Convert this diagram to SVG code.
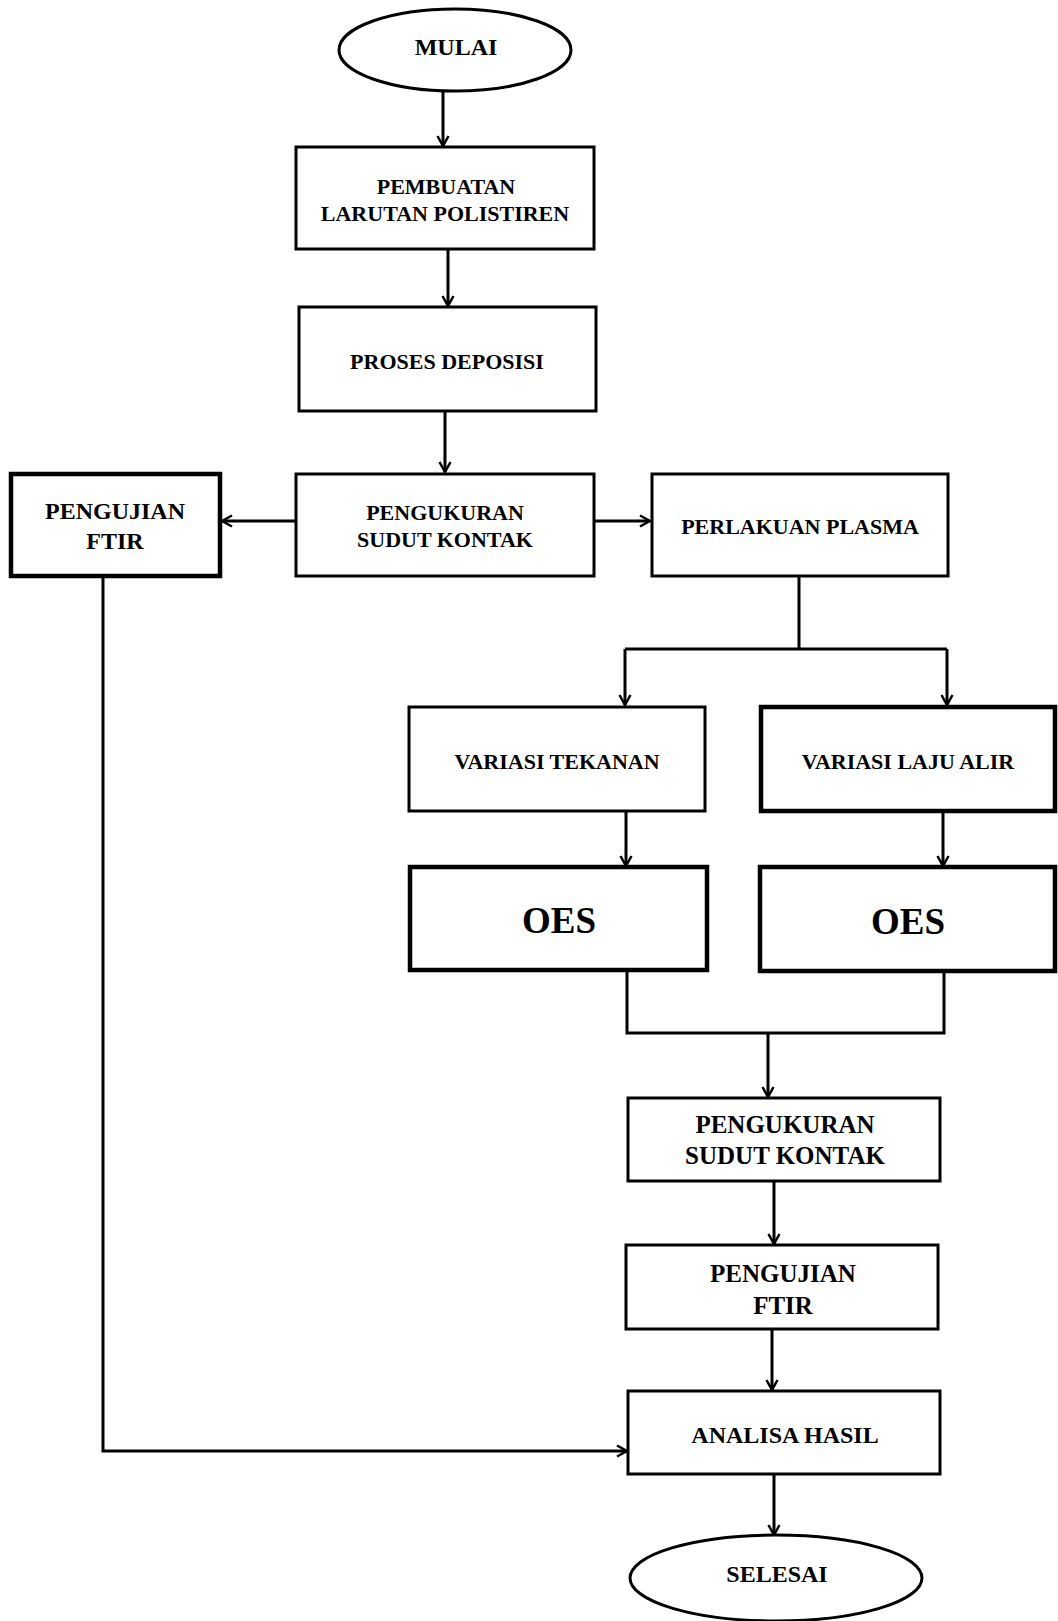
<svg xmlns="http://www.w3.org/2000/svg" width="1058" height="1621" viewBox="0 0 1058 1621">
<style>
.box{fill:#fff;stroke:#000;stroke-width:3}
.thick{stroke-width:4.5}
.t{font-family:"Liberation Serif","Times New Roman",serif;font-weight:bold;fill:#000;text-anchor:middle}
.conn{fill:none;stroke:#000;stroke-width:3}
</style>
<defs>
<marker id="arr" viewBox="0 0 14 14" refX="12" refY="7" markerWidth="14" markerHeight="14" markerUnits="userSpaceOnUse" orient="auto">
<path d="M2,1.5 L12,7 L2,12.5" fill="none" stroke="#000" stroke-width="2.5"/>
</marker>
</defs>
<rect width="1058" height="1621" fill="#fff"/>
<g id="connectors">
<path class="conn" d="M443,91 V146" marker-end="url(#arr)"/>
<path class="conn" d="M448,249 V306" marker-end="url(#arr)"/>
<path class="conn" d="M445,411 V472" marker-end="url(#arr)"/>
<path class="conn" d="M296,521 H222" marker-end="url(#arr)"/>
<path class="conn" d="M594,521 H650" marker-end="url(#arr)"/>
<path class="conn" d="M799,576 V649 M625,649 H947"/>
<path class="conn" d="M625,649 V705" marker-end="url(#arr)"/>
<path class="conn" d="M947,649 V705" marker-end="url(#arr)"/>
<path class="conn" d="M626,811 V866" marker-end="url(#arr)"/>
<path class="conn" d="M943,811 V866" marker-end="url(#arr)"/>
<path class="conn" d="M627,970 V1033 H944 V971"/>
<path class="conn" d="M768,1033 V1097" marker-end="url(#arr)"/>
<path class="conn" d="M774,1181 V1244" marker-end="url(#arr)"/>
<path class="conn" d="M772,1329 V1390" marker-end="url(#arr)"/>
<path class="conn" d="M103,576 V1451 H627" marker-end="url(#arr)"/>
<path class="conn" d="M774,1474 V1535" marker-end="url(#arr)"/>
</g>
<g id="mulai">
<ellipse class="box" cx="455" cy="50" rx="116" ry="41"/>
<text class="t" x="456" y="55" font-size="24">MULAI</text>
</g>
<g id="pembuatan">
<rect class="box" x="296" y="147" width="298" height="102"/>
<text class="t" x="446" y="194" font-size="22">PEMBUATAN</text>
<text class="t" x="445" y="221" font-size="22">LARUTAN POLISTIREN</text>
</g>
<g id="deposisi">
<rect class="box" x="299" y="307" width="297" height="104"/>
<text class="t" x="447" y="369" font-size="22">PROSES DEPOSISI</text>
</g>
<g id="pengukuran1">
<rect class="box" x="296" y="474" width="298" height="102"/>
<text class="t" x="445" y="520" font-size="22">PENGUKURAN</text>
<text class="t" x="445" y="547" font-size="22">SUDUT KONTAK</text>
</g>
<g id="ftir1">
<rect class="box thick" x="11" y="474" width="209" height="102"/>
<text class="t" x="115" y="519" font-size="24">PENGUJIAN</text>
<text class="t" x="115" y="549" font-size="24">FTIR</text>
</g>
<g id="plasma">
<rect class="box" x="652" y="474" width="296" height="102"/>
<text class="t" x="800" y="534" font-size="22">PERLAKUAN PLASMA</text>
</g>
<g id="tekanan">
<rect class="box" x="409" y="707" width="296" height="104"/>
<text class="t" x="557" y="769" font-size="22">VARIASI TEKANAN</text>
</g>
<g id="lajualir">
<rect class="box thick" x="761" y="707" width="294" height="104"/>
<text class="t" x="908" y="769" font-size="22">VARIASI LAJU ALIR</text>
</g>
<g id="oes1">
<rect class="box thick" x="410" y="867" width="297" height="103"/>
<text class="t" x="559" y="933" font-size="37">OES</text>
</g>
<g id="oes2">
<rect class="box thick" x="760" y="867" width="295" height="104"/>
<text class="t" x="908" y="934" font-size="37">OES</text>
</g>
<g id="pengukuran2">
<rect class="box" x="628" y="1098" width="312" height="83"/>
<text class="t" x="785" y="1133" font-size="25">PENGUKURAN</text>
<text class="t" x="785" y="1164" font-size="25">SUDUT KONTAK</text>
</g>
<g id="ftir2">
<rect class="box" x="626" y="1245" width="312" height="84"/>
<text class="t" x="783" y="1282" font-size="25">PENGUJIAN</text>
<text class="t" x="783" y="1314" font-size="25">FTIR</text>
</g>
<g id="analisa">
<rect class="box" x="628" y="1391" width="312" height="83"/>
<text class="t" x="785" y="1443" font-size="24">ANALISA HASIL</text>
</g>
<g id="selesai">
<ellipse class="box" cx="776" cy="1578" rx="146" ry="43"/>
<text class="t" x="777" y="1582" font-size="24">SELESAI</text>
</g>
</svg>
